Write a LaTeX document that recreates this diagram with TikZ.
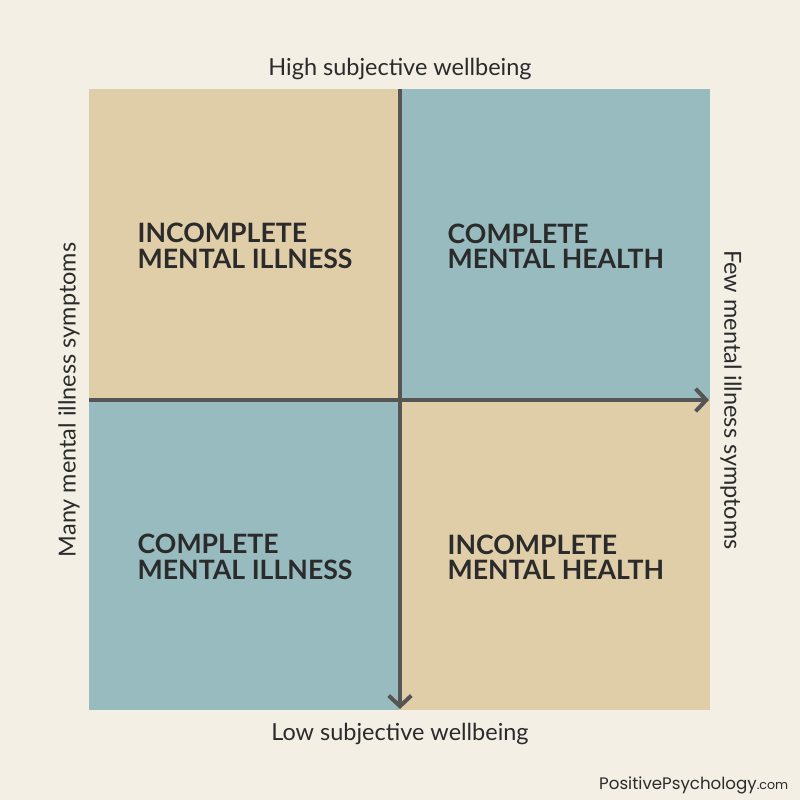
\documentclass[tikz,border=0pt]{standalone}
\usepackage{fontspec}
\setmainfont{Lato}
\newfontfamily\logofont{Poppins}
\usetikzlibrary{arrows.meta}
\definecolor{paper}{HTML}{F3EFE5}
\definecolor{sand}{HTML}{E0CEA9}
\definecolor{slate}{HTML}{98BBC0}
\definecolor{axis}{HTML}{555555}
\definecolor{ink}{HTML}{2B2B2B}
\tikzset{
  quad/.style={draw=none, minimum width=310.5*0.75pt, minimum height=310.5*0.75pt, inner sep=0pt},
  quadtext/.style={font=\bfseries\fontsize{20}{19}\selectfont, text=ink, align=left, anchor=west},
  axistext/.style={font=\fontsize{17.6}{18}\selectfont, text=ink},
  axisline/.style={draw=axis, line width=3pt, -{Straight Barb[length=8pt, width=17pt, line width=3pt]}}
}
\begin{document}
\begin{tikzpicture}[x=0.75pt,y=0.75pt,yscale=-1,xscale=1]
%set diagram area 800 x 800
\fill[paper] (0,0) rectangle (800,800);
\useasboundingbox (0,0) rectangle (800,800);

% Quadrants
\node (nw) [quad, fill=sand, anchor=north west] at (89,89) {};
\node (ne) [quad, fill=slate, anchor=north east] at (710,89) {};
\node (sw) [quad, fill=slate, anchor=south west] at (89,710) {};
\node (se) [quad, fill=sand, anchor=south east] at (710,710) {};

% Axes
\coordinate (top) at (400,89);
\coordinate (bottom) at (400,709);
\coordinate (left) at (89,400);
\coordinate (right) at (709,400);
\draw [axisline] (top) -- (bottom);
\draw [axisline] (left) -- (right);

% Quadrant labels
\node (nwtext) [quadtext] at (133,246) {INCOMPLETE\\MENTAL ILLNESS};
\node (netext) [quadtext] at (443,246) {COMPLETE\\MENTAL HEALTH};
\node (swtext) [quadtext] at (133,557) {COMPLETE\\MENTAL ILLNESS};
\node (setext) [quadtext] at (443,557) {INCOMPLETE\\MENTAL HEALTH};

% Axis labels
\node (high) [axistext] at (400,69) {High subjective wellbeing};
\node (low) [axistext] at (400,734) {Low subjective wellbeing};
\node (many) [axistext, rotate=90] at (69,400) {Many mental illness symptoms};
\node (few) [axistext, rotate=-90] at (731,400) {Few mental illness symptoms};

% Logo
\node (logo) [font=\logofont\fontsize{12.5}{14}\selectfont, text=ink, anchor=east] at (793,785) {PositivePsychology{\fontsize{9.5}{10}\selectfont.com}};

\end{tikzpicture}
\end{document}
